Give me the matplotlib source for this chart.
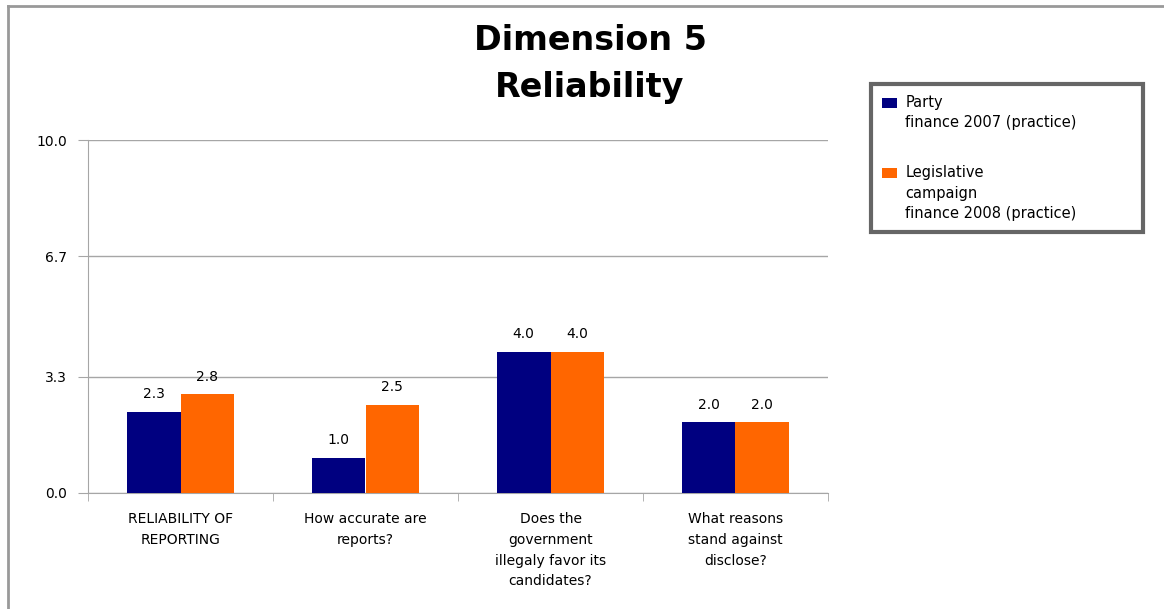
import numpy as np
import matplotlib.pyplot as plt
from matplotlib.lines import Line2D
from matplotlib.patches import Patch, Rectangle
from matplotlib.legend_handler import HandlerPatch

# --- Dados ---
categorias = ["RELIABILITY OF\nREPORTING", "How accurate are\nreports?",
              "Does the\ngovernment\nillegaly favor its\ncandidates?",
              "What reasons\nstand against\ndisclose?"]
party_2007 = [2.3, 1.0, 4.0, 2.0]
legis_2008 = [2.8, 2.5, 4.0, 2.0]
series_nomes = ["Party\nfinance 2007 (practice)",
                "Legislative\ncampaign\nfinance 2008 (practice)"]
yticks = [0.0, 3.3, 6.7, 10.0]

COR_NAVY = "#000080"
COR_LARANJA = "#FF6600"
COR_GRADE = "#A6A6A6"

FS_LEG = 10.5
LS_LEG = 1.45


class HandlerTopo(HandlerPatch):
    """Quadradinho da legenda alinhado com a primeira linha do rotulo."""

    def __init__(self, nlinhas):
        super().__init__()
        self.dy = (nlinhas - 1) / 2 * FS_LEG * LS_LEG

    def create_artists(self, legend, orig_handle, xdescent, ydescent,
                       width, height, fontsize, trans):
        p = Rectangle((-xdescent, -ydescent + self.dy), width, height)
        self.update_prop(p, orig_handle, legend)
        p.set_transform(trans)
        return [p]


plt.rcParams["font.family"] = "DejaVu Sans"

fig = plt.figure(figsize=(11.64, 6.09), dpi=100)
ax = fig.add_axes([88 / 1164, 1 - 493 / 609, 740 / 1164, 353 / 609])

x = np.arange(len(categorias))
w = 0.29
b1 = ax.bar(x - w / 2, party_2007, w, color=COR_NAVY, zorder=3)
b2 = ax.bar(x + w / 2, legis_2008, w, color=COR_LARANJA, zorder=3)

for bars, vals in ((b1, party_2007), (b2, legis_2008)):
    for bar, v in zip(bars, vals):
        ax.text(bar.get_x() + bar.get_width() / 2, v + 0.3, f"{v:.1f}",
                ha="center", va="bottom", fontsize=10)

ax.set_xlim(-0.5, len(categorias) - 0.5)
ax.set_ylim(0, 10)
ax.set_yticks(yticks)
ax.set_yticklabels([f"{t:.1f}" for t in yticks], fontsize=10)
ax.yaxis.grid(True, color=COR_GRADE, lw=1, zorder=0)

# rotulos das categorias no centro, ticks nos limites
ax.set_xticks(x)
ax.set_xticklabels(categorias, fontsize=10, linespacing=1.6)
ax.tick_params(axis="x", length=0, pad=14)
ax.set_xticks(np.arange(-0.5, len(categorias)), minor=True)
ax.tick_params(axis="x", which="minor", length=6, color=COR_GRADE)
ax.tick_params(axis="y", length=7, color=COR_GRADE, pad=8)

for lado in ("top", "right"):
    ax.spines[lado].set_visible(False)
for lado in ("left", "bottom"):
    ax.spines[lado].set_color(COR_GRADE)

fig.text(590 / 1164, 1 - 64 / 609, "Dimension 5\nReliability", ha="center",
         va="center", fontsize=24, fontweight="bold", linespacing=1.5)

# legenda
h1 = Patch(facecolor=COR_NAVY)
h2 = Patch(facecolor=COR_LARANJA)
leg = fig.legend([h1, h2], series_nomes, loc="upper left",
                 bbox_to_anchor=(871 / 1164, 1 - 84 / 609 - 0.01, 272 / 1164, 0.01),
                 mode="expand", fontsize=FS_LEG, frameon=True, fancybox=False,
                 labelspacing=2.4, handlelength=1.0, handleheight=0.7,
                 handletextpad=0.6, borderpad=0.75, borderaxespad=0,
                 handler_map={h1: HandlerTopo(2), h2: HandlerTopo(3)})
for t in leg.get_texts():
    t.set_linespacing(LS_LEG)
leg.get_frame().set_edgecolor("#404040")
leg.get_frame().set_linewidth(3)

# moldura externa
fig.add_artist(Line2D([8 / 1164, 8 / 1164], [0, 1 - 6 / 609], color="#999999", lw=2))
fig.add_artist(Line2D([8 / 1164, 1], [1 - 6 / 609, 1 - 6 / 609], color="#999999", lw=2))

fig.savefig("out.png", dpi=100)
